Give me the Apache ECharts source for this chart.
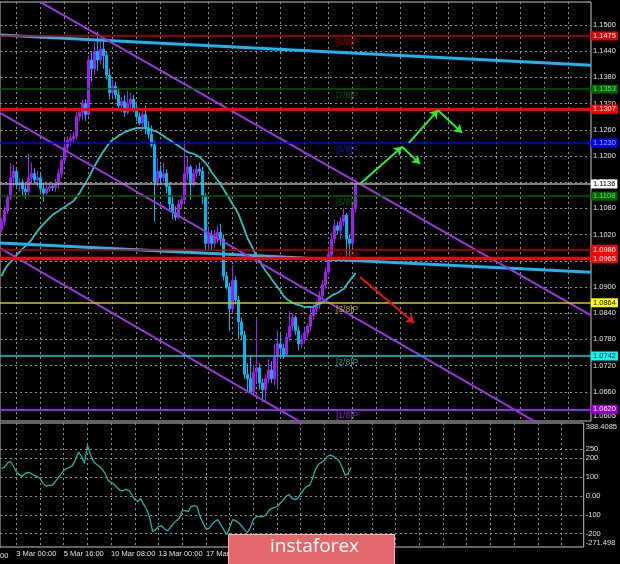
<!DOCTYPE html>
<html><head><meta charset="utf-8">
<script src="https://cdn.jsdelivr.net/npm/echarts@6/dist/echarts.min.js"></script>
<style>html,body{margin:0;padding:0;background:#000;}#c{width:620px;height:564px;}</style>
</head><body><div id="c"></div>
<script>
// ---------- DATA ----------
const firstBarUTC = [2020, 2, 2, 4]; // 2 Mar 2020 04:00, H4 bars
const candles = [ // [open, close, low, high]
[1.1032,1.1050,1.1025,1.1058],[1.1050,1.1075,1.1040,1.1085],[1.1075,1.1105,1.1068,1.1112],[1.1105,1.1150,1.1098,1.1184],
[1.1150,1.1165,1.1130,1.1180],[1.1165,1.1135,1.1128,1.1170],[1.1135,1.1140,1.1118,1.1150],[1.1140,1.1125,1.1110,1.1148],
[1.1125,1.1118,1.1103,1.1135],[1.1118,1.1150,1.1110,1.1205],[1.1150,1.1160,1.1140,1.1185],[1.1160,1.1145,1.1138,1.1172],
[1.1145,1.1150,1.1130,1.1165],[1.1150,1.1125,1.1115,1.1160],[1.1125,1.1115,1.1095,1.1140],[1.1115,1.1125,1.1110,1.1135],
[1.1125,1.1130,1.1118,1.1140],[1.1130,1.1128,1.1120,1.1138],[1.1128,1.1135,1.1118,1.1148],[1.1135,1.1160,1.1125,1.1170],
[1.1160,1.1190,1.1150,1.1195],[1.1190,1.1220,1.1185,1.1240],[1.1220,1.1235,1.1210,1.1245],[1.1235,1.1240,1.1225,1.1250],
[1.1240,1.1245,1.1228,1.1255],[1.1245,1.1290,1.1238,1.1300],[1.1290,1.1300,1.1280,1.1310],[1.1300,1.1320,1.1282,1.1330],
[1.1320,1.1295,1.1280,1.1330],[1.1295,1.1420,1.1290,1.1430],[1.1420,1.1400,1.1370,1.1440],[1.1400,1.1440,1.1385,1.1460],
[1.1440,1.1420,1.1395,1.1485],[1.1420,1.1445,1.1410,1.1470],[1.1445,1.1430,1.1400,1.1465],[1.1430,1.1385,1.1375,1.1440],
[1.1385,1.1345,1.1330,1.1400],[1.1345,1.1360,1.1335,1.1375],[1.1360,1.1340,1.1330,1.1370],[1.1340,1.1315,1.1305,1.1355],
[1.1315,1.1325,1.1300,1.1335],[1.1325,1.1300,1.1290,1.1340],[1.1300,1.1320,1.1295,1.1350],[1.1320,1.1330,1.1305,1.1345],
[1.1330,1.1310,1.1300,1.1340],[1.1310,1.1290,1.1280,1.1320],[1.1290,1.1275,1.1270,1.1300],[1.1275,1.1295,1.1260,1.1310],
[1.1295,1.1265,1.1250,1.1315],[1.1265,1.1250,1.1240,1.1280],[1.1250,1.1225,1.1220,1.1270],[1.1225,1.1140,1.1050,1.1235],
[1.1140,1.1165,1.1130,1.1195],[1.1165,1.1150,1.1135,1.1180],[1.1150,1.1160,1.1140,1.1185],[1.1160,1.1130,1.1115,1.1170],
[1.1130,1.1090,1.1075,1.1140],[1.1090,1.1070,1.1055,1.1110],[1.1070,1.1060,1.1052,1.1085],[1.1060,1.1090,1.1055,1.1100],
[1.1090,1.1100,1.1080,1.1110],[1.1100,1.1160,1.1095,1.1235],[1.1160,1.1175,1.1145,1.1200],[1.1175,1.1135,1.1100,1.1180],
[1.1135,1.1160,1.1130,1.1170],[1.1160,1.1170,1.1150,1.1180],[1.1170,1.1165,1.1155,1.1185],[1.1165,1.1110,1.1090,1.1175],
[1.1110,1.1000,1.0985,1.1115],[1.1000,1.1020,1.0985,1.1035],[1.1020,1.1000,1.0985,1.1030],[1.1000,1.1015,1.0990,1.1030],
[1.1015,1.1025,1.1000,1.1040],[1.1025,1.1010,1.0995,1.1045],[1.1010,1.0925,1.0915,1.1020],[1.0925,1.0900,1.0895,1.0935],
[1.0900,1.0850,1.0800,1.0910],[1.0850,1.0915,1.0840,1.0950],[1.0915,1.0870,1.0860,1.0925],[1.0870,1.0820,1.0780,1.0880],
[1.0820,1.0790,1.0780,1.0830],[1.0790,1.0700,1.0690,1.0800],[1.0700,1.0690,1.0660,1.0725],[1.0690,1.0660,1.0655,1.0740],
[1.0660,1.0705,1.0655,1.0720],[1.0705,1.0715,1.0680,1.0830],[1.0715,1.0680,1.0665,1.0725],[1.0680,1.0665,1.0636,1.0690],
[1.0665,1.0690,1.0640,1.0700],[1.0690,1.0710,1.0680,1.0735],[1.0710,1.0690,1.0680,1.0730],[1.0690,1.0740,1.0675,1.0770],
[1.0740,1.0770,1.0665,1.0800],[1.0770,1.0760,1.0740,1.0795],[1.0760,1.0745,1.0735,1.0770],[1.0745,1.0785,1.0740,1.0795],
[1.0785,1.0810,1.0775,1.0845],[1.0810,1.0830,1.0800,1.0840],[1.0830,1.0800,1.0790,1.0835],[1.0800,1.0770,1.0755,1.0810],
[1.0770,1.0780,1.0760,1.0790],[1.0780,1.0795,1.0770,1.0805],[1.0795,1.0810,1.0785,1.0815],[1.0810,1.0835,1.0800,1.0855],
[1.0835,1.0850,1.0825,1.0860],[1.0850,1.0860,1.0840,1.0870],[1.0860,1.0880,1.0850,1.0890],[1.0880,1.0905,1.0870,1.0915],
[1.0905,1.0935,1.0895,1.0945],[1.0935,1.0975,1.0930,1.0990],[1.0975,1.1010,1.0965,1.1025],[1.1010,1.1040,1.1000,1.1055],
[1.1040,1.1030,1.1020,1.1050],[1.1030,1.1050,1.1010,1.1060],[1.1050,1.1065,1.1040,1.1080],[1.1065,1.1010,1.0965,1.1070],
[1.1010,1.1000,1.0960,1.1020],[1.1000,1.1080,1.0990,1.1090],[1.1080,1.1136,1.1070,1.1147]
];
const maValues = [
1.0925,1.0939,1.0950,1.0957,1.0964,1.0973,1.0980,1.0987,1.0994,1.1001,1.1008,1.1019,1.1028,1.1037,1.1044,1.1051,
1.1058,1.1065,1.1070,1.1074,1.1079,1.1083,1.1088,1.1092,1.1097,1.1106,1.1115,1.1127,1.1138,1.1150,1.1163,1.1177,
1.1189,1.1200,1.1211,1.1221,1.1230,1.1237,1.1241,1.1246,1.1250,1.1255,1.1257,1.1260,1.1262,1.1264,1.1264,1.1264,
1.1264,1.1262,1.1260,1.1257,1.1255,1.1250,1.1246,1.1241,1.1237,1.1232,1.1228,1.1223,1.1218,1.1214,1.1209,1.1207,
1.1205,1.1202,1.1198,1.1191,1.1184,1.1175,1.1163,1.1154,1.1145,1.1136,1.1124,1.1113,1.1102,1.1090,1.1079,1.1067,
1.1049,1.1031,1.1012,1.0999,1.0985,1.0971,1.0960,1.0948,1.0937,1.0928,1.0918,1.0909,1.0900,1.0891,1.0880,1.0873,
1.0868,1.0864,1.0861,1.0859,1.0857,1.0854,1.0854,1.0854,1.0854,1.0859,1.0861,1.0866,1.0870,1.0875,1.0880,1.0884,
1.0886,1.0891,1.0895,1.0905,1.0914,1.0923,1.0932
];
const cciValues = [
147,152,174,185,158,131,115,104,120,126,120,110,104,94,67,51,56,56,72,94,115,136,147,152,163,195,233,211,174,270,
222,185,169,158,142,120,83,72,62,45,29,29,35,29,8,-19,-29,-13,-45,-72,-115,-190,-179,-163,-158,-174,-185,-169,-147,-131,
-120,-78,-78,-83,-56,-51,-56,-110,-142,-174,-174,-152,-136,-126,-152,-179,-206,-169,-126,-131,-142,-158,-179,-195,-169,-126,-110,-110,-110,-104,
-83,-67,-62,-56,-40,-24,-3,8,-13,-19,-13,13,35,51,56,94,142,169,179,190,211,217,211,201,185,152,110,120,152
];
const priceTicks = [1.1500,1.1440,1.1380,1.1320,1.1260,1.1200,1.1140,1.1080,1.1020,1.0960,1.0900,1.0840,1.0780,1.0720,1.0660];
const priceLabels = priceTicks.concat([1.0605]);
const cciTicks = [250,200,100,0,-100,-200];
const cciLabels = [388.4085,250,200,100,0,-100,-200,-271.498];
const levelValues = [1.1475,1.1353,1.1307,1.1230,1.1136,1.1108,1.0986,1.0965,1.0864,1.0742,1.0620];
const murreyNames = ['[8/8]P','[7/8]P','[6/8]P','[5/8]P','[4/8]P','[3/8]P','[2/8]P','[1/8]P'];
const murreyValues = [1.1475,1.1353,1.1230,1.1108,1.0986,1.0864,1.0742,1.0620];
const blueTrends = [[[-0.5,1.1477],[196.5,1.1408]],[[-0.5,1.1001],[196.5,1.0934]]];
const channelLines = [[[12.83,1.1553],[196.5,1.0835]],[[-0.5,1.1299],[196.5,1.0518]],[[-0.5,1.0989],[110,1.0550]]];
const greenArrows = [[[119.5,1.1136],[133.5,1.1221]],[[133.5,1.1221],[139.5,1.1182]],[[135.8,1.1230],[145.5,1.1305]],[[145.5,1.1305],[153.5,1.1253]]];
const redArrows = [[[119.5,1.0923],[137.5,1.0818]]];

// ---------- BUILD ----------
const SLOTS = 197;
const FONT = '"Liberation Sans", Arial, sans-serif';
const MON = ['Jan','Feb','Mar','Apr','May','Jun','Jul','Aug','Sep','Oct','Nov','Dec'];
const times = [];
let t = Date.UTC(firstBarUTC[0], firstBarUTC[1], firstBarUTC[2], firstBarUTC[3]);
while (times.length < candles.length) {
  const d = new Date(t);
  if (d.getUTCDay() !== 0 && d.getUTCDay() !== 6) times.push(d);
  t += 4 * 3600e3;
}
const pad = n => (n < 10 ? '0' : '') + n;
const fmtTime = d => d.getUTCDate() + ' ' + MON[d.getUTCMonth()] + ' ' + pad(d.getUTCHours()) + ':' + pad(d.getUTCMinutes());
const cats = [];
for (let i = 0; i < SLOTS; i++) cats.push(i < times.length ? fmtTime(times[i]) : '');
const vGrid = []; for (let k = 5; k < SLOTS; k += 8) vGrid.push(k);
const timeLabelIdx = []; for (let k = 5; k < candles.length; k += 16) timeLabelIdx.push(k);

const gridLine = { color: '#8e8e8e', width: 1, type: [2, 3] };
const levelStyle = [
  { line: '#c80000', w: 1.5, box: '#e00000', txt: '#ffffff' },
  { line: '#006000', w: 1.5, box: '#006400', txt: '#66dd66' },
  { line: '#ff0000', w: 3, box: '#ff0000', txt: '#ffffff' },
  { line: '#0000ff', w: 1.5, box: '#0000ff', txt: '#b0b0ff' },
  { line: '#a8a8a8', w: 1.5, box: '#ffffff', txt: '#000000' },
  { line: '#006000', w: 1.5, box: '#006400', txt: '#66dd66' },
  { line: '#c00000', w: 1.5, box: '#ff0000', txt: '#ffffff' },
  { line: '#ff0000', w: 3, box: '#ff0000', txt: '#ffffff' },
  { line: '#cccc00', w: 1.5, box: '#ffff00', txt: '#000000' },
  { line: '#00d8d8', w: 1.5, box: '#00ffff', txt: '#000000' },
  { line: '#8a2be2', w: 2, box: '#9400d3', txt: '#ffffff' }
];
const murreyColors = ['#d00000','#0a7a0a','#1a1aff','#0a7a0a','#d00000','#d8d800','#20c4c0','#9a3ef0'];

const markLines = levelValues.map((v, i) => ({
  yAxis: v,
  lineStyle: { color: levelStyle[i].line, width: levelStyle[i].w, type: 'solid' },
  label: {
    show: true, position: 'end', distance: 0, formatter: v.toFixed(4),
    backgroundColor: levelStyle[i].box, color: levelStyle[i].txt,
    fontSize: 7.5, fontFamily: FONT, padding: [1, 2, 0, 2], lineHeight: 8
  }
}));

const series = [
  {
    type: 'line', xAxisIndex: 0, yAxisIndex: 0, data: maValues, symbol: 'none',
    lineStyle: { color: '#22c0c0', width: 1.5 }, z: 1,
    markLine: { silent: true, symbol: ['none', 'none'], animation: false, precision: 4, data: markLines }
  },
  {
    type: 'candlestick', xAxisIndex: 0, yAxisIndex: 0, data: candles, barWidth: 2.5, z: 2,
    itemStyle: { color: '#9a1ee8', color0: '#00b8f0', borderColor: '#a020f0', borderColor0: '#00b8f0', borderWidth: 1 }
  },
  {
    type: 'line', xAxisIndex: 0, yAxisIndex: 0, data: maValues, symbol: 'none',
    lineStyle: { color: '#22c0c0', width: 1.5 }, z: 3
  }
];
blueTrends.forEach(seg => series.push({
  type: 'line', xAxisIndex: 1, yAxisIndex: 0, data: seg, symbol: 'none', clip: true,
  lineStyle: { color: '#1ab6f4', width: 3 }, z: 4
}));
channelLines.forEach(seg => series.push({
  type: 'line', xAxisIndex: 1, yAxisIndex: 0, data: seg, symbol: 'none', clip: true,
  lineStyle: { color: '#9b35e0', width: 2 }, z: 4
}));
series.push({
  type: 'lines', coordinateSystem: 'cartesian2d', xAxisIndex: 1, yAxisIndex: 0, z: 5,
  symbol: ['none', 'arrow'], symbolSize: 8,
  lineStyle: { color: '#2eee2e', width: 2, opacity: 1 },
  data: greenArrows.map(c => ({ coords: c }))
});
series.push({
  type: 'lines', coordinateSystem: 'cartesian2d', xAxisIndex: 1, yAxisIndex: 0, z: 5,
  symbol: ['none', 'arrow'], symbolSize: 8,
  lineStyle: { color: '#ee1111', width: 2, opacity: 1 },
  data: redArrows.map(c => ({ coords: c }))
});
series.push({
  type: 'scatter', xAxisIndex: 1, yAxisIndex: 0, symbolSize: 1, z: 6,
  itemStyle: { color: 'rgba(0,0,0,0)' },
  data: murreyValues.map((v, i) => ({
    value: [111.5, v],
    label: { show: true, position: [0.5, 2.5], align: 'left', verticalAlign: 'top',
      formatter: murreyNames[i], color: murreyColors[i], fontSize: 8.5, fontFamily: FONT }
  }))
});
series.push({
  type: 'line', xAxisIndex: 2, yAxisIndex: 1, data: cciValues.map((v, i) => [i, v]), symbol: 'none',
  lineStyle: { color: '#20b2aa', width: 1.3 }
});

const axisLabelBase = { fontSize: 7.5, fontFamily: FONT, color: '#e0e0e0' };
const option = {
  backgroundColor: '#000000',
  animation: false,
  grid: [
    { left: 0, top: 2, width: 591, height: 419, show: true, borderColor: '#c4c4c4', borderWidth: 1 },
    { left: 0, top: 423, width: 591, height: 124, show: true, borderColor: '#c4c4c4', borderWidth: 1 }
  ],
  xAxis: [
    { type: 'category', gridIndex: 0, data: cats, boundaryGap: true,
      axisLine: { show: false }, axisTick: { show: false }, axisLabel: { show: false }, splitLine: { show: false } },
    { type: 'value', gridIndex: 0, min: -0.5, max: SLOTS - 0.5,
      axisLine: { show: false }, axisTick: { show: false, customValues: vGrid },
      axisLabel: { show: false }, splitLine: { show: true, lineStyle: gridLine } },
    { type: 'value', gridIndex: 1, min: -0.5, max: SLOTS - 0.5,
      axisLine: { show: false }, axisTick: { show: false, customValues: vGrid },
      axisLabel: Object.assign({ show: true, customValues: timeLabelIdx, align: 'left', margin: 3,
        formatter: v => fmtTime(times[Math.round(v)]) }, axisLabelBase),
      splitLine: { show: true, lineStyle: gridLine } }
  ],
  yAxis: [
    { type: 'value', gridIndex: 0, position: 'right', min: 1.05932, max: 1.155267, scale: true,
      axisLine: { show: false }, axisTick: { show: false, customValues: priceTicks },
      axisLabel: Object.assign({ customValues: priceLabels, margin: 2, formatter: v => v.toFixed(4) }, axisLabelBase),
      splitLine: { show: true, lineStyle: gridLine } },
    { type: 'value', gridIndex: 1, position: 'right', min: -271.498, max: 388.4085,
      axisLine: { show: false }, axisTick: { show: false, customValues: cciTicks },
      axisLabel: Object.assign({ customValues: cciLabels, margin: 2,
        formatter: v => v === 0 ? '0.00' : (v === 388.4085 ? '{t|388.4085}' : (v === -271.498 ? '{b|-271.498}' : String(v))),
        rich: { t: { padding: [8, 0, 0, 0], fontSize: 7.5, fontFamily: FONT, color: '#e0e0e0' },
                b: { padding: [0, 0, 8, 0], fontSize: 7.5, fontFamily: FONT, color: '#e0e0e0' } } }, axisLabelBase),
      splitLine: { show: true, lineStyle: gridLine } }
  ],
  graphic: [
    { type: 'text', left: 0, top: 552, z: 50, style: { text: '00', fill: '#e0e0e0', font: '7.5px ' + FONT } },
    { type: 'rect', left: 228, top: 534, z: 100, shape: { width: 166, height: 32 },
      style: { fill: '#e3686c', stroke: '#f2b5b5', lineWidth: 1 } },
    { type: 'text', left: 270, top: 537, z: 101,
      style: { text: 'instaforex', fill: '#ffffff', font: '19px "Open Sans", sans-serif' } }
  ],
  series: series
};
const chart = echarts.init(document.getElementById('c'), null, { renderer: 'canvas' });
chart.setOption(option);
</script>
</body></html>
